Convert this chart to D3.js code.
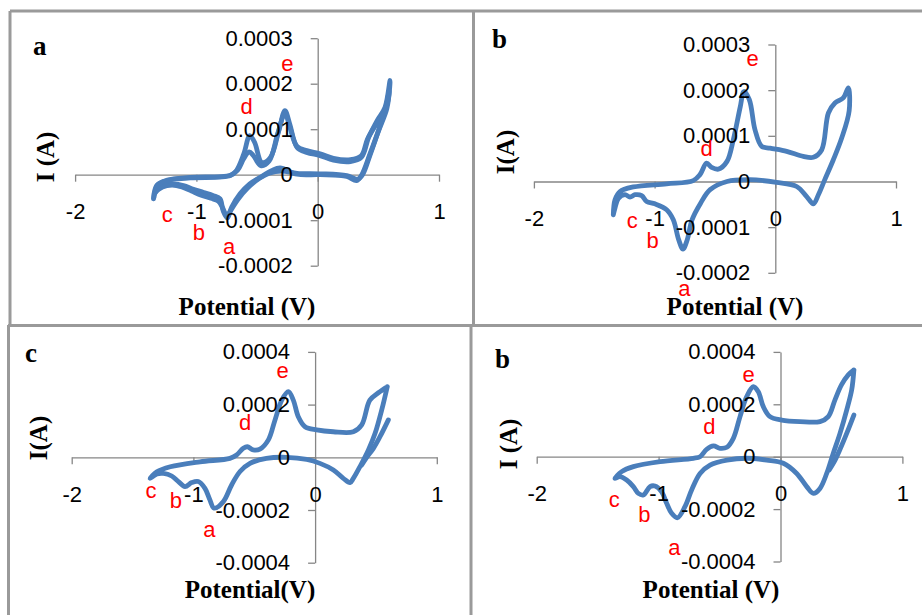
<!DOCTYPE html>
<html>
<head>
<meta charset="utf-8">
<script src="https://cdn.jsdelivr.net/npm/d3@7"></script>
<style>
  body { margin: 0; background: #fff; }
  .ticklabels text { font-family: "Liberation Sans", Arial, sans-serif; font-size: 22px; fill: #000; }
  .title { font-family: "Liberation Serif", "Times New Roman", serif; font-weight: bold; font-size: 25px; fill: #000; }
  .letter { font-family: "Liberation Serif", "Times New Roman", serif; font-weight: bold; font-size: 27px; fill: #000; }
  .peak { font-family: "Liberation Sans", Arial, sans-serif; font-size: 22px; fill: #ff0000; }
  .cv { fill: none; stroke: #4a7ebb; stroke-width: 4.8; stroke-linejoin: round; stroke-linecap: round; }
</style>
</head>
<body>
<svg id="chart" width="922" height="615"></svg>
<script>
// ---- data (potential in V, current in units of 1e-4 A) ----
var xTicks = [-2, -1, 0, 1];
var xLabels = ["-2", "-1", "0", "1"];
var yTicksAB = [-0.0002, -0.0001, 0, 0.0001, 0.0002, 0.0003];
var yLabelsAB = ["-0.0002", "-0.0001", "0", "0.0001", "0.0002", "0.0003"];
var yTicksCD = [-0.0004, -0.0002, 0, 0.0002, 0.0004];
var yLabelsCD = ["-0.0004", "-0.0002", "0", "0.0002", "0.0004"];

var peakNames = ["a", "b", "c", "d", "e"];

// panel a, two cycles
var cvA1 = [[-1.354,-0.53],[-1.327,-0.24],[-1.245,-0.13],[-1.05,-0.07],[-0.72,-0.02],[-0.67,0.09],[-0.61,0.45],[-0.56,0.86],
  [-0.52,0.71],[-0.46,0.27],[-0.39,0.38],[-0.32,0.97],[-0.27,1.41],[-0.23,1.11],[-0.17,0.60],[-0.09,0.49],[0.02,0.42],
  [0.13,0.32],[0.27,0.29],[0.36,0.38],[0.42,0.82],[0.49,1.19],[0.555,1.48],[0.596,2.07],
  [0.58,1.63],[0.51,1.04],[0.43,0.45],[0.36,-0.02],[0.32,-0.13],[0.24,-0.04],[0.02,0.0],[-0.17,0.01],[-0.31,0.15],
  [-0.38,0.09],[-0.45,-0.02],[-0.56,-0.2],[-0.64,-0.42],[-0.71,-0.72],[-0.745,-0.95],[-0.78,-0.79],[-0.805,-0.53],
  [-0.86,-0.46],[-0.94,-0.39],[-1.025,-0.32],[-1.107,-0.24],[-1.19,-0.21],[-1.27,-0.24],[-1.34,-0.39],[-1.354,-0.53]];
var cvA2 = [[-1.35,-0.5],[-1.32,-0.22],[-1.24,-0.12],[-1.05,-0.06],[-0.72,-0.01],[-0.66,0.1],[-0.61,0.35],[-0.565,0.5],
  [-0.53,0.42],[-0.47,0.2],[-0.40,0.3],[-0.33,0.9],[-0.27,1.35],[-0.23,1.05],[-0.17,0.62],[-0.09,0.53],[0.02,0.46],
  [0.13,0.36],[0.27,0.33],[0.36,0.42],[0.41,0.78],[0.48,1.1],[0.55,1.38],[0.59,1.85],
  [0.57,1.45],[0.5,0.95],[0.43,0.42],[0.37,0.0],[0.33,-0.1],[0.24,-0.02],[0.02,0.02],[-0.17,0.03],[-0.3,0.08],
  [-0.4,0.03],[-0.48,-0.08],[-0.58,-0.3],[-0.66,-0.55],[-0.72,-0.8],[-0.75,-0.9],[-0.785,-0.72],[-0.82,-0.58],
  [-0.88,-0.52],[-0.96,-0.45],[-1.04,-0.36],[-1.12,-0.27],[-1.2,-0.23],[-1.28,-0.27],[-1.34,-0.4],[-1.35,-0.5]];
var peaksA = [[-0.731,-1.60],[-0.979,-1.30],[-1.24,-0.90],[-0.585,1.48],[-0.25,2.43]];

// panel b
var cvB1 = [[-1.342,-0.73],[-1.328,-0.40],[-1.287,-0.22],[-1.176,-0.12],[-0.90,-0.05],[-0.68,0.02],[-0.624,0.15],
  [-0.569,0.40],[-0.528,0.31],[-0.472,0.27],[-0.40,0.44],[-0.348,0.91],[-0.29,1.64],[-0.26,1.97],[-0.215,1.79],
  [-0.168,1.13],[-0.113,0.77],[-0.044,0.73],[0.094,0.66],[0.232,0.55],[0.315,0.53],[0.384,0.69],[0.44,1.50],
  [0.494,1.72],[0.563,1.83],[0.605,2.05],
  [0.612,1.55],[0.55,0.95],[0.48,0.47],[0.41,0.04],[0.357,-0.29],[0.315,-0.49],[0.26,-0.33],[0.177,-0.11],
  [0.01,-0.02],[-0.21,0.04],[-0.40,0.0],[-0.54,-0.18],[-0.62,-0.48],[-0.69,-0.84],[-0.73,-1.28],[-0.765,-1.48],
  [-0.80,-1.28],[-0.845,-0.84],[-0.90,-0.62],[-0.997,-0.49],[-1.066,-0.44],[-1.107,-0.31],[-1.162,-0.29],
  [-1.204,-0.34],[-1.245,-0.29],[-1.30,-0.37],[-1.328,-0.58],[-1.342,-0.73]];
var peaksB = [[-0.754,-2.36],[-1.016,-1.32],[-1.185,-0.88],[-0.568,0.71],[-0.187,2.68]];

// panel c (scan start segment + cycle)
var cvC0 = [[0.602,1.42],[0.533,0.78],[0.479,0.34],[0.424,0.0],[0.383,-0.29]];
var cvC1 = [[0.593,2.68],[0.547,1.79],[0.493,0.91],[0.438,0.28],[0.369,-0.35],[0.314,-0.80],[0.287,-0.96],
  [0.232,-0.80],[0.15,-0.48],[0.04,-0.23],[-0.069,-0.08],[-0.234,0.0],[-0.40,-0.04],[-0.535,-0.23],[-0.617,-0.54],
  [-0.686,-1.05],[-0.754,-1.68],[-0.83,-1.93],[-0.864,-1.62],[-0.905,-1.18],[-0.96,-0.92],[-1.014,-0.96],
  [-1.069,-1.11],[-1.123,-0.92],[-1.178,-0.71],[-1.246,-0.61],[-1.30,-0.63],[-1.356,-0.80],
  [-1.30,-0.55],[-1.19,-0.36],[-0.946,-0.17],[-0.70,-0.04],[-0.645,0.09],[-0.59,0.34],[-0.557,0.40],[-0.508,0.28],
  [-0.453,0.31],[-0.384,0.66],[-0.33,1.41],[-0.274,2.17],[-0.22,2.49],[-0.179,2.17],[-0.138,1.54],[-0.083,1.16],
  [0.013,1.04],[0.15,0.97],[0.314,0.97],[0.383,1.23],[0.45,2.17],[0.52,2.45],[0.593,2.68]];
var peaksC = [[-0.869,-2.76],[-1.143,-1.68],[-1.348,-1.31],[-0.576,1.29],[-0.266,3.25]];

// panel d (scan start segment + cycle)
var cvD0 = [[0.602,1.59],[0.543,0.89],[0.49,0.3],[0.44,-0.2],[0.40,-0.5]];
var cvD1 = [[0.602,3.31],[0.584,2.55],[0.543,1.78],[0.488,0.89],[0.433,0.13],[0.379,-0.64],[0.324,-1.21],[0.27,-1.40],
  [0.215,-1.14],[0.133,-0.64],[0.023,-0.25],[-0.113,-0.13],[-0.277,-0.06],[-0.44,-0.13],[-0.578,-0.32],[-0.66,-0.64],
  [-0.729,-1.27],[-0.784,-1.91],[-0.845,-2.33],[-0.893,-2.16],[-0.934,-1.78],[-0.975,-1.34],[-1.03,-1.12],
  [-1.07,-1.14],[-1.125,-1.46],[-1.166,-1.40],[-1.207,-1.14],[-1.262,-0.89],[-1.317,-0.76],[-1.358,-0.83],
  [-1.303,-0.57],[-1.207,-0.38],[-0.988,-0.19],[-0.715,-0.06],[-0.66,0.0],[-0.606,0.28],[-0.55,0.41],[-0.496,0.32],
  [-0.44,0.36],[-0.387,0.70],[-0.332,1.53],[-0.278,2.29],[-0.223,2.67],[-0.182,2.48],[-0.141,1.91],[-0.086,1.53],
  [0.01,1.40],[0.16,1.34],[0.324,1.34],[0.392,1.53],[0.447,2.17],[0.50,2.74],[0.556,3.12],[0.602,3.31]];
var peaksD = [[-0.871,-3.50],[-1.117,-2.25],[-1.363,-1.65],[-0.584,1.12],[-0.261,3.12]];

// ---- layout ----
var panels = [
  { letter: "a", letterPos: [33, 55], xRange: [75.1, 439], yRange: [265.7, 38.2],
    yTicks: yTicksAB, yLabels: yLabelsAB, series: [cvA1, cvA2], peaks: peaksA,
    xTitle: "Potential (V)", xTitlePos: [247, 315], yTitle: "I (A)", yTitlePos: [45, 157] },
  { letter: "b", letterPos: [492, 48], xRange: [533.9, 896], yRange: [272.8, 44.5],
    yTicks: yTicksAB, yLabels: yLabelsAB, series: [cvB1], peaks: peaksB,
    xTitle: "Potential (V)", xTitlePos: [735, 315], yTitle: "I(A)", yTitlePos: [505, 152] },
  { letter: "c", letterPos: [25, 362], xRange: [71.7, 436.8], yRange: [562.7, 351.9],
    yTicks: yTicksCD, yLabels: yLabelsCD, series: [cvC0, cvC1], peaks: peaksC,
    xTitle: "Potential(V)", xTitlePos: [250, 598], yTitle: "I(A)", yTitlePos: [38, 438] },
  { letter: "b", letterPos: [495, 368], xRange: [536.7, 902.4], yRange: [561.5, 351.9],
    yTicks: yTicksCD, yLabels: yLabelsCD, series: [cvD0, cvD1], peaks: peaksD,
    xTitle: "Potential (V)", xTitlePos: [711, 598], yTitle: "I (A)", yTitlePos: [508, 444] }
];

var svg = d3.select("#chart");

// frame lines between the four pictures
var frame = [[10, 11, 922, 11], [10, 11, 10, 326], [473.5, 11, 473.5, 326], [8, 325.5, 922, 325.5],
  [8.5, 325, 8.5, 615], [471, 325, 471, 615]];
svg.selectAll("line.frame").data(frame).enter().append("line")
  .attr("class", "frame")
  .attr("x1", function (d) { return d[0]; }).attr("y1", function (d) { return d[1]; })
  .attr("x2", function (d) { return d[2]; }).attr("y2", function (d) { return d[3]; })
  .style("stroke", "#9a9a9a").style("stroke-width", 3);

panels.forEach(function (p) {
  var x = d3.scaleLinear().domain([-2, 1]).range(p.xRange);
  var y = d3.scaleLinear().domain(d3.extent(p.yTicks)).range(p.yRange);
  var g = svg.append("g");

  var xAxis = d3.axisBottom(x).tickValues(xTicks).tickSize(7).tickSizeOuter(0).tickPadding(22);
  var yAxis = d3.axisLeft(y).tickValues(p.yTicks).tickSize(7).tickSizeOuter(0).tickPadding(18);

  // axis lines under the curves
  function styleLines(a) {
    a.select(".domain").style("stroke", "#868686").style("stroke-width", 1.3);
    a.selectAll(".tick line").style("stroke", "#868686").style("stroke-width", 1.3);
  }
  g.append("g").attr("transform", "translate(0," + y(0) + ")")
    .call(xAxis.tickFormat(""))
    .call(styleLines);
  g.append("g").attr("transform", "translate(" + x(0) + ",0)")
    .call(yAxis.tickFormat(""))
    .call(styleLines);

  var line = d3.line()
    .x(function (d) { return x(d[0]); })
    .y(function (d) { return y(d[1] * 1e-4); })
    .curve(d3.curveCatmullRom.alpha(0.5));

  g.selectAll("path.cv").data(p.series).enter().append("path")
    .attr("class", "cv")
    .attr("d", line);

  // tick labels on top of the curves
  function onlyText(a) {
    a.select(".domain").remove();
    a.selectAll(".tick line").remove();
    a.attr("font-size", null).attr("font-family", null);
  }
  g.append("g").attr("class", "ticklabels").attr("transform", "translate(0," + y(0) + ")")
    .call(xAxis.tickFormat(function (d, i) { return xLabels[i]; }))
    .call(onlyText);
  g.append("g").attr("class", "ticklabels").attr("transform", "translate(" + x(0) + ",0)")
    .call(yAxis.tickFormat(function (d, i) { return p.yLabels[i]; }))
    .call(onlyText);

  // peak labels
  g.selectAll("text.peak").data(p.peaks).enter().append("text")
    .attr("class", "peak")
    .attr("x", function (d) { return x(d[0]); })
    .attr("y", function (d) { return y(d[1] * 1e-4); })
    .attr("dy", "0.3em")
    .attr("text-anchor", "middle")
    .text(function (d, i) { return peakNames[i]; });

  g.append("text").attr("class", "letter")
    .attr("x", p.letterPos[0]).attr("y", p.letterPos[1])
    .text(p.letter);

  g.append("text").attr("class", "title")
    .attr("x", p.xTitlePos[0]).attr("y", p.xTitlePos[1])
    .attr("text-anchor", "middle")
    .text(p.xTitle);

  g.append("text").attr("class", "title")
    .attr("transform", "translate(" + p.yTitlePos[0] + "," + p.yTitlePos[1] + ") rotate(-90)")
    .attr("text-anchor", "middle")
    .attr("dy", "0.35em")
    .text(p.yTitle);
});
</script>
</body>
</html>
